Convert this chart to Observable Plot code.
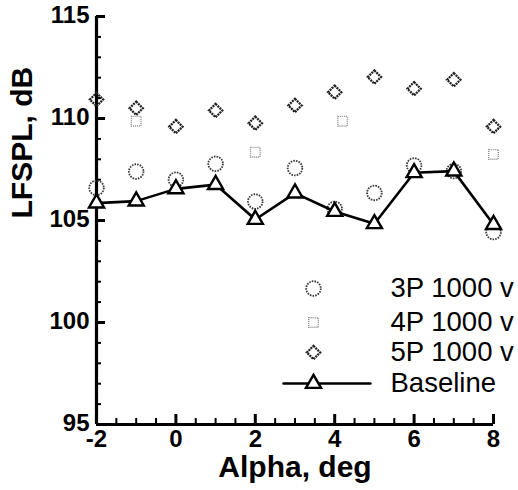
<!DOCTYPE html>
<html><head><meta charset="utf-8">
<script src="https://cdn.jsdelivr.net/npm/d3@7"></script>
<script src="https://cdn.jsdelivr.net/npm/@observablehq/plot@0.6"></script>
<style>body{margin:0;background:#fff}#chart svg{display:block}</style>
</head><body><div id="chart"></div>
<script>
const alpha = [-2, -1, 0, 1, 2, 3, 4, 5, 6, 7, 8];
const baseline = [105.85, 105.95, 106.55, 106.76, 105.05, 106.34, 105.44, 104.84, 107.34, 107.42, 104.8];
const p3 = [106.6, 107.4, 107.0, 107.78, 105.93, 107.57, 105.57, 106.35, 107.7, 107.42, 104.43];
const p5 = [110.93, 110.5, 109.6, 110.39, 109.77, 110.64, 111.29, 112.03, 111.46, 111.9, 109.6];
const p4Alpha = [-1, 2, 4.2, 8];
const p4 = [109.87, 108.35, 109.87, 108.24];
const xMajor = [-2, 0, 2, 4, 6, 8];
const xMinor = d3.range(-2, 8.01, 0.5).filter(v => v % 2 !== 0);
const yMajor = [95, 100, 105, 110, 115];
const yMinor = d3.range(95, 116).filter(v => v % 5 !== 0);
const legendLabels = ["3P 1000 v", "4P 1000 v", "5P 1000 v", "Baseline"];

const font = "'Liberation Sans', Arial, sans-serif";
const sty = {
  p3: {symbol: "circle", r: 7.3, stroke: "#3a3a3a", strokeWidth: 1.8, strokeDasharray: "1.6,1.1", fill: "none"},
  p4: {symbol: "square", r: 5.4, stroke: "#8a8a8a", strokeWidth: 1.4, strokeDasharray: "1,1", fill: "none"},
  p5: {symbol: "diamond2", r: 6, stroke: "#222", strokeWidth: 2.3, strokeDasharray: "2,0.8", fill: "none"},
  base: {symbol: "triangle", r: 5.6, stroke: "#000", strokeWidth: 2.4, fill: "#fff"}
};

const base = alpha.map((a, i) => ({a, v: baseline[i]}));
const d3p = alpha.map((a, i) => ({a, v: p3[i]}));
const d5p = alpha.map((a, i) => ({a, v: p5[i]}));
const d4p = p4Alpha.map((a, i) => ({a, v: p4[i]}));

const legendRows = [sty.p3, sty.p4, sty.p5, sty.base];
const legendDy = [272, 306, 336, 367];
const legendMarks = [];
legendLabels.forEach((lab, i) => {
  if (i === 3) {
    legendMarks.push(Plot.vector([0], {frameAnchor: "top-left", dx: 187, dy: legendDy[i], rotate: 90, length: 87, anchor: "start", stroke: "#000", strokeWidth: 2.4,
      shape: {draw(ctx, l) { ctx.moveTo(0, 0); ctx.lineTo(0, -l); }}}));
  }
  legendMarks.push(Plot.dot([0], {frameAnchor: "top-left", dx: 217, dy: legendDy[i], ...legendRows[i]}));
  legendMarks.push(Plot.text([lab], {frameAnchor: "top-left", dx: 294, dy: legendDy[i], text: d => d, textAnchor: "start", lineAnchor: "middle", fontSize: 27.5, fill: "#000"}));
});

const chart = Plot.plot({
  width: 518, height: 490,
  marginLeft: 96, marginRight: 25, marginTop: 16, marginBottom: 66,
  style: {fontFamily: font, background: "#fff", overflow: "visible"},
  x: {domain: [-2, 8]},
  y: {domain: [95, 115]},
  marks: [
    Plot.axisX(xMajor, {tickSize: 0, tickPadding: 5, fontSize: 24, fontWeight: "bold", label: null, tickFormat: d => String(d)}),
    Plot.axisX(xMajor, {tickSize: -10, text: null, label: null, strokeWidth: 3}),
    Plot.axisX(xMinor, {tickSize: -6, text: null, label: null, strokeWidth: 2}),
    Plot.axisY(yMajor, {tickSize: 0, tickPadding: 7, fontSize: 24, fontWeight: "bold", label: null, dy: -1}),
    Plot.axisY(yMajor, {tickSize: -9, text: null, label: null, strokeWidth: 3}),
    Plot.axisY(yMinor, {tickSize: -5, text: null, label: null, strokeWidth: 2}),
    Plot.ruleX([-2], {strokeWidth: 3.2}),
    Plot.ruleY([95], {strokeWidth: 3.2}),
    Plot.text(["Alpha, deg"], {frameAnchor: "bottom", dy: 43, text: d => d, fontSize: 30, fontWeight: "bold", lineAnchor: "middle", fill: "#000"}),
    Plot.text(["LFSPL, dB"], {frameAnchor: "left", dx: -74, dy: -2, rotate: -90, text: d => d, fontSize: 30, fontWeight: "bold", lineAnchor: "middle", fill: "#000"}),
    Plot.dot(d4p, {x: "a", y: "v", ...sty.p4}),
    Plot.dot(d5p, {x: "a", y: "v", ...sty.p5}),
    Plot.dot(d3p, {x: "a", y: "v", ...sty.p3}),
    Plot.line(base, {x: "a", y: "v", stroke: "#000", strokeWidth: 2.6}),
    Plot.dot(base, {x: "a", y: "v", ...sty.base}),
    ...legendMarks
  ]
});
document.getElementById("chart").appendChild(chart);
</script>
</body></html>
